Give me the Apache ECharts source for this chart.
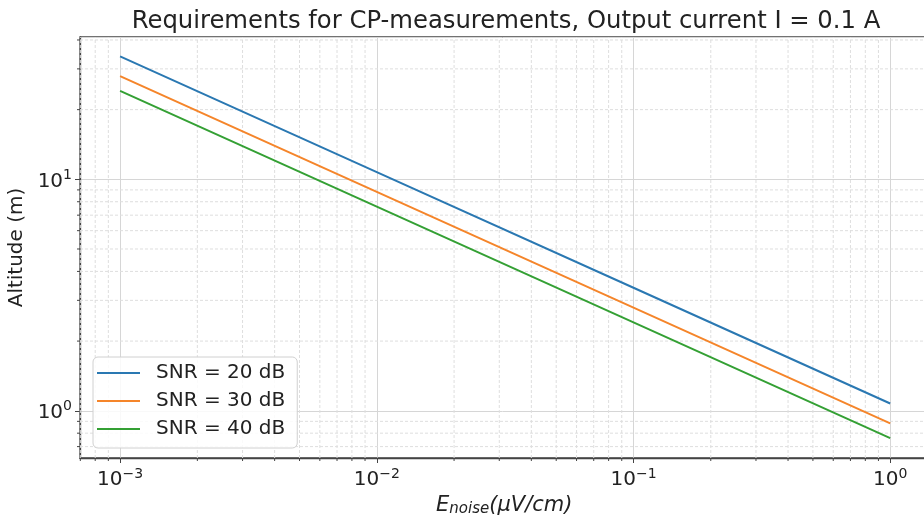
<!DOCTYPE html>
<html>
<head>
<meta charset="utf-8">
<script src="https://cdn.jsdelivr.net/npm/echarts@6/dist/echarts.min.js"></script>
<style>html,body{margin:0;padding:0;background:#fff}#c{width:924px;height:517px}</style>
</head>
<body>
<div id="c"></div>
<script>
// ---- data ----
const eNoise = [0.001, 0.01, 0.1, 1];           // µV/cm
const snr20 = [34.0, 10.75, 3.40, 1.075];        // m
const snr30 = [27.9, 8.82, 2.79, 0.882];
const snr40 = [24.1, 7.62, 2.41, 0.762];
const seriesNames = ['SNR = 20 dB', 'SNR = 30 dB', 'SNR = 40 dB'];
const seriesColors = ['#2a78b2', '#f5852a', '#34a034'];
const xRange = [6.98e-4, 1.41];
const yRange = [0.625, 41.2];
// minor tick values (log axes)
const xMinorTicks = [7e-4, 8e-4, 9e-4,
  2e-3, 3e-3, 4e-3, 5e-3, 6e-3, 7e-3, 8e-3, 9e-3,
  2e-2, 3e-2, 4e-2, 5e-2, 6e-2, 7e-2, 8e-2, 9e-2,
  0.2, 0.3, 0.4, 0.5, 0.6, 0.7, 0.8, 0.9];
const yMinorTicks = [0.7, 0.8, 0.9, 2, 3, 4, 5, 6, 7, 8, 9, 20, 30, 40];

const FONT = 'DejaVu Sans';
const AXIS_COLOR = '#444';
const chart = echarts.init(document.getElementById('c'), null, {renderer: 'canvas'});

function pow10Label(v) {
  const e = Math.round(Math.log10(v));
  return '{b|10}{s|' + String(e).replace('-', '\u2212') + '}';
}
const labelRich = {
  b: {fontFamily: FONT, fontSize: 20, color: '#222', verticalAlign: 'bottom', lineHeight: 24},
  s: {fontFamily: FONT, fontSize: 14, color: '#222', verticalAlign: 'bottom', lineHeight: 24, padding: [0, 0, 9, 0]}
};

function mk(name, ys, color) {
  return {
    name: name, type: 'line', symbol: 'none', smooth: false,
    data: eNoise.map((x, i) => [x, ys[i]]),
    lineStyle: {width: 2, color: color}, itemStyle: {color: color},
    z: 5
  };
}

// minor grid lines + minor ticks drawn through the axes' own scales
function minorSeries(values, dim) {
  return {
    type: 'custom', silent: true, clip: false, z: 1,
    data: values.map(v => [v]),
    encode: dim === 'x' ? {x: 0} : {y: 0},
    renderItem: function (params, api) {
      const v = api.value(0);
      let a, b, t;
      if (dim === 'x') {
        a = api.coord([v, yRange[0]]);
        b = api.coord([v, yRange[1]]);
        t = [a[0], a[1] + 3];
      } else {
        a = api.coord([xRange[0], v]);
        b = api.coord([xRange[1], v]);
        t = [a[0] - 3, a[1]];
      }
      return {
        type: 'group',
        children: [
          {type: 'line', shape: {x1: a[0], y1: a[1], x2: b[0], y2: b[1]},
           style: {stroke: '#dedede', lineWidth: 1, lineDash: [3, 2]}, z2: 1},
          {type: 'line', shape: {x1: a[0], y1: a[1], x2: t[0], y2: t[1]},
           style: {stroke: AXIS_COLOR, lineWidth: 1}, z2: 2}
        ]
      };
    }
  };
}

const option = {
  animation: false,
  backgroundColor: '#fff',
  title: {
    text: 'Requirements for CP-measurements, Output current I = 0.1 A',
    left: 501, top: 5, textAlign: 'center',
    textStyle: {fontFamily: FONT, fontSize: 24.3, fontWeight: 'normal', color: '#222'}
  },
  grid: {left: 80, top: 37, right: -4.5, bottom: 59, show: true, borderColor: AXIS_COLOR, borderWidth: 1.3,
         containLabel: false, outerBoundsMode: 'none'},
  legend: {
    left: 93, top: 357, orient: 'vertical',
    data: seriesNames.map(n => ({name: n, icon: 'rect'})),
    itemWidth: 43, itemHeight: 2, itemGap: 8,
    padding: [6, 12, 9, 4],
    borderColor: '#d0d0d0', borderWidth: 1, borderRadius: 5,
    backgroundColor: 'rgba(255,255,255,0.85)',
    textStyle: {fontFamily: FONT, fontSize: 20, color: '#222', lineHeight: 20, padding: [0, 0, 0, 11]}
  },
  xAxis: {
    type: 'log', logBase: 10, min: xRange[0], max: xRange[1],
    name: '{i|E}{sub|noise}{i|(\u03bcV/cm)}', nameLocation: 'middle', nameGap: 35,
    nameTextStyle: {
      rich: {
        i: {fontFamily: FONT, fontSize: 21, fontStyle: 'italic', color: '#222'},
        sub: {fontFamily: FONT, fontSize: 15, fontStyle: 'italic', color: '#222', padding: [8, 0, 0, 0]}
      }
    },
    axisLine: {show: true, lineStyle: {color: AXIS_COLOR, width: 1.3}},
    axisTick: {show: true, inside: false, length: 5, lineStyle: {color: AXIS_COLOR}},
    minorTick: {show: false},
    axisLabel: {formatter: pow10Label, rich: labelRich, margin: 8, showMinLabel: false, showMaxLabel: false},
    splitLine: {show: true, lineStyle: {color: '#d6d6d6', width: 1}},
    minorSplitLine: {show: false}
  },
  yAxis: {
    type: 'log', logBase: 10, min: yRange[0], max: yRange[1],
    name: 'Altitude (m)', nameLocation: 'middle', nameGap: 53,
    nameTextStyle: {fontFamily: FONT, fontSize: 20, color: '#222'},
    axisLine: {show: true, lineStyle: {color: AXIS_COLOR, width: 1.3}},
    axisTick: {show: true, inside: false, length: 5, lineStyle: {color: AXIS_COLOR}},
    minorTick: {show: false},
    axisLabel: {formatter: pow10Label, rich: labelRich, margin: 8, showMinLabel: false, showMaxLabel: false},
    splitLine: {show: true, lineStyle: {color: '#d6d6d6', width: 1}},
    minorSplitLine: {show: false}
  },
  series: [
    minorSeries(xMinorTicks, 'x'),
    minorSeries(yMinorTicks, 'y'),
    mk(seriesNames[0], snr20, seriesColors[0]),
    mk(seriesNames[1], snr30, seriesColors[1]),
    mk(seriesNames[2], snr40, seriesColors[2])
  ]
};
chart.setOption(option);
</script>
</body>
</html>
